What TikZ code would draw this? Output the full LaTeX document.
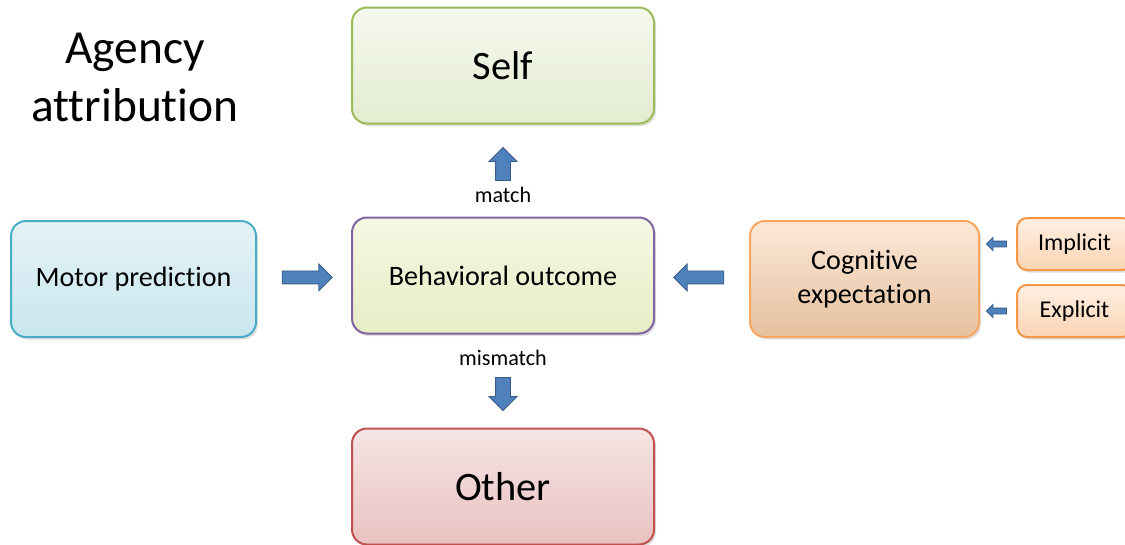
\documentclass[tikz,border=0pt]{standalone}
\usepackage{fontspec}
\setmainfont{Carlito}[Ligatures={NoCommon,NoRequired,NoContextual}]
\usepackage{xcolor}
\usetikzlibrary{shapes,arrows,positioning,shadows}

\definecolor{arrowblue}{HTML}{4F81BD}
\definecolor{arrowline}{HTML}{385D8A}
\definecolor{selfline}{HTML}{9BBB59}
\definecolor{outline}{HTML}{8064A2}
\definecolor{otherline}{HTML}{C0504D}
\definecolor{motorline}{HTML}{4BACC6}
\definecolor{cogline}{HTML}{F79646}
\definecolor{outtop}{HTML}{F6F8E4}
\definecolor{outbot}{HTML}{E6EDC4}
\definecolor{cogtop}{HTML}{FCE8D7}
\definecolor{cogbot}{HTML}{E6C19F}
\definecolor{cuetop}{HTML}{FEF0E3}
\definecolor{cuebot}{HTML}{FBD4B3}

\begin{document}
\begin{tikzpicture}[node distance=1.88cm,
    box/.style={draw, rectangle, rounded corners=0.3cm, line width=0.04cm, minimum width=6.04cm, minimum height=2.32cm, align=center, font=\fontsize{16}{19}\selectfont, drop shadow={opacity=0.25, shadow xshift=0.04cm, shadow yshift=-0.05cm}},
    bigbox/.style={box, font=\fontsize{23}{27}\selectfont},
    smallbox/.style={box, rounded corners=0.2cm, minimum width=2.3cm, minimum height=1.04cm, font=\fontsize{13.7}{16}\selectfont, draw=cogline, top color=cuetop, bottom color=cuebot},
    fatarrow/.style={single arrow, draw=arrowline, fill=arrowblue, line width=0.5pt, inner sep=0.12cm, single arrow head extend=0.14cm, single arrow head indent=0pt, minimum height=1cm},
    tallarrow/.style={fatarrow, inner sep=0.14cm, single arrow head extend=0.13cm, minimum height=0.66cm},
    tinyarrow/.style={fatarrow, inner sep=0.05cm, single arrow head extend=0.07cm, minimum height=0.4cm},
    lbl/.style={font=\fontsize{12.6}{15}\selectfont}]
    \clip[use as bounding box] (0,0) rectangle (22.5,-10.88);

    \node[align=center, font=\fontsize{27}{33.5}\selectfont] (agency) at (2.7,-1.55) {Agency\\attribution};

    \node[box, draw=outline, top color=outtop, bottom color=outbot] (outcome) at (10.06,-5.51) {Behavioral outcome};
    \node[bigbox, draw=selfline, top color=selfline!10, bottom color=selfline!28, above=1.84cm of outcome] (self) {Self};
    \node[bigbox, draw=otherline, top color=otherline!15, bottom color=otherline!35, below=1.86cm of outcome] (other) {Other};
    \node[box, draw=motorline, top color=motorline!15, bottom color=motorline!30, minimum width=4.9cm, left=of outcome, yshift=-0.07cm] (motor) {Motor prediction};
    \node[box, draw=cogline!85!white, top color=cogtop, bottom color=cogbot, minimum width=4.58cm, right=of outcome, yshift=-0.07cm] (cog) {Cognitive\\expectation};
    \node[smallbox, right=0.72cm of cog.east, yshift=0.7cm] (implicit) {Implicit};
    \node[smallbox, right=0.72cm of cog.east, yshift=-0.64cm] (explicit) {Explicit};

    \path (motor) -- node[fatarrow] {} (outcome);
    \path (cog) -- node[fatarrow, shape border rotate=180] {} (outcome);
    \path (outcome) -- node[pos=0.53, tallarrow, shape border rotate=90] {} (self);
    \path (outcome) -- node[pos=0.24, lbl] {match} (self);
    \path (outcome) -- node[pos=0.6, tallarrow, shape border rotate=270] {} (other);
    \path (outcome) -- node[pos=0.25, lbl] {mismatch} (other);
    \path (implicit.west) -- node[tinyarrow, shape border rotate=180] {} (implicit.west -| cog.east);
    \path (explicit.west) -- node[tinyarrow, shape border rotate=180] {} (explicit.west -| cog.east);
\end{tikzpicture}
\end{document}
